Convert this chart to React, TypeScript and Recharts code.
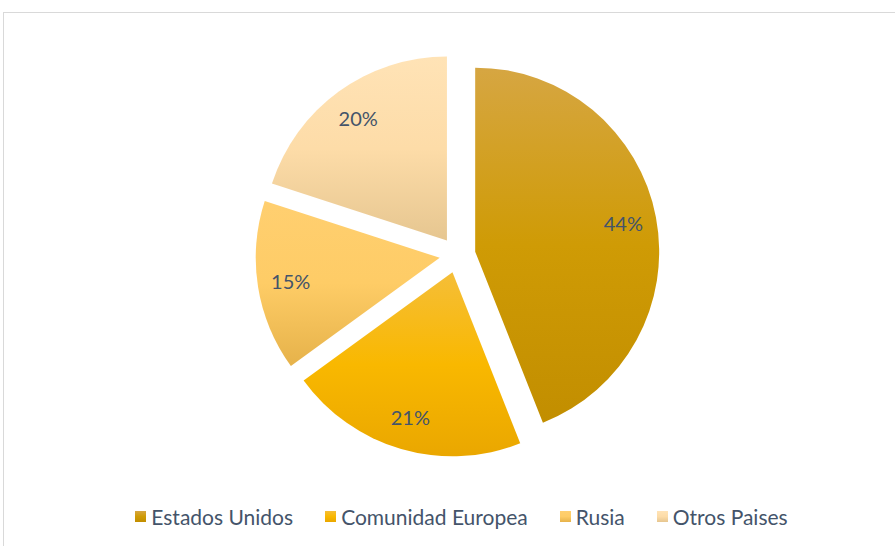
import { Legend, Pie, PieChart, Sector } from "recharts"

const names = ["Estados Unidos", "Comunidad Europea", "Rusia", "Otros Paises"]
const shares = [44, 21, 15, 20]
const gradients = [
  ["#D6A642", "#CF9B05", "#C28E00"],
  ["#F5BE38", "#F9B800", "#EAA700"],
  ["#FFCF70", "#FECC66", "#E6B24A"],
  ["#FFE3B6", "#FDDCA8", "#E6C690"],
]

const data = names.map((name, i) => ({ name, value: shares[i] }))

const RAD = Math.PI / 180
const EXPLODE = 18

function ExplodedSlice(props: any) {
  const { cx, cy, midAngle, index } = props
  const dx = EXPLODE * Math.cos(-midAngle * RAD)
  const dy = EXPLODE * Math.sin(-midAngle * RAD)
  return <Sector {...props} cx={cx + dx} cy={cy + dy} fill={`url(#grad${index})`} stroke="none" />
}

function renderLabel(props: any) {
  const { cx, cy, midAngle, outerRadius, percent } = props
  const r = EXPLODE + outerRadius * 0.82
  const x = cx + r * Math.cos(-midAngle * RAD)
  const y = cy + r * Math.sin(-midAngle * RAD)
  return (
    <text x={x} y={y} fill="#44546A" fontSize={20} fontFamily="Lato" textAnchor="middle" dominantBaseline="central">
      {`${Math.round(percent * 100)}%`}
    </text>
  )
}

function LegendBox() {
  return (
    <div style={{ display: "flex", justifyContent: "center", alignItems: "center", paddingLeft: 28, fontFamily: "Lato", fontSize: 21, color: "#44546A" }}>
      {names.map((n, i) => (
        <div key={n} style={{ display: "flex", alignItems: "center", marginLeft: i === 0 ? 0 : 32 }}>
          <svg width={11} height={11} style={{ marginRight: 5 }}>
            <rect width={11} height={11} fill={`url(#grad${i})`} />
          </svg>
          <span>{n}</span>
        </div>
      ))}
    </div>
  )
}

export default function App() {
  return (
    <div style={{ position: "absolute", left: 0, top: 0, width: 895, height: 546, background: "#fff", overflow: "hidden" }}>
      <div style={{ position: "absolute", left: 3, top: 12, width: 900, height: 600, border: "1px solid #D9D9D9" }} />
      <PieChart width={895} height={546} style={{ position: "absolute", left: 0, top: 0 }}>
        <defs>
          {gradients.map((g, i) => (
            <linearGradient key={i} id={`grad${i}`} x1="0" y1="0" x2="0" y2="1">
              <stop offset="0%" stopColor={g[0]} />
              <stop offset="50%" stopColor={g[1]} />
              <stop offset="100%" stopColor={g[2]} />
            </linearGradient>
          ))}
        </defs>
        <Pie
          data={data}
          dataKey="value"
          nameKey="name"
          cx={452.5}
          cy={250}
          outerRadius={184}
          startAngle={90}
          endAngle={-270}
          shape={ExplodedSlice}
          label={renderLabel}
          labelLine={false}
          isAnimationActive={false}
        />
        <Legend verticalAlign="bottom" wrapperStyle={{ bottom: 17 }} content={() => <LegendBox />} />
      </PieChart>
    </div>
  )
}
